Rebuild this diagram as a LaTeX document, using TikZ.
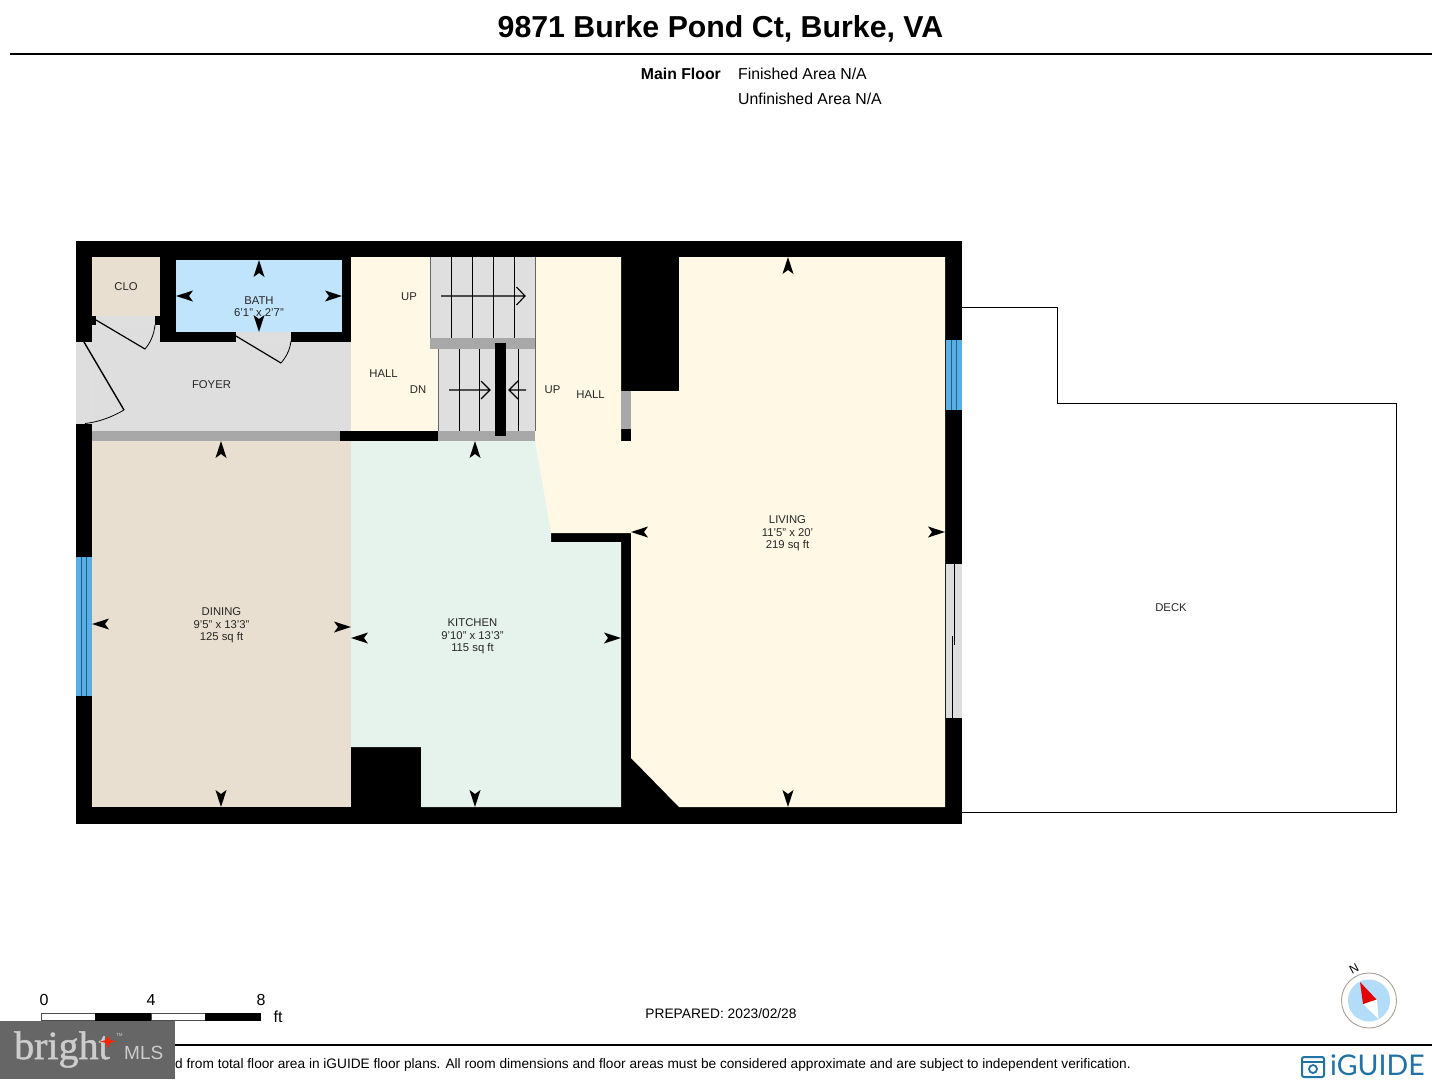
\documentclass[tikz,border=0pt]{standalone}
\usepackage{fontspec}
\setmainfont{Liberation Sans}
\newfontfamily\brightfont[BoldFont={Liberation Serif},BoldFeatures={FakeBold=1.3}]{Liberation Serif}
\newfontfamily\logofont{Lato}
\definecolor{cream}{HTML}{FFF8E5}
\definecolor{tan}{HTML}{E8DFD1}
\definecolor{mint}{HTML}{E5F3EC}
\definecolor{bathblue}{HTML}{BFE4FC}
\definecolor{compassblue}{HTML}{B2DCF7}
\definecolor{compassring}{HTML}{A89F9A}
\definecolor{floorgray}{HTML}{DEDEDE}
\definecolor{stairgray}{HTML}{DFDFE0}
\definecolor{thresh}{HTML}{A8A8A8}
\definecolor{winblue}{HTML}{5AAFE2}
\definecolor{winline}{HTML}{1F5F8F}
\definecolor{badge}{HTML}{666666}
\definecolor{logoblue}{HTML}{2272A8}
\newcommand\dimmark[3]{\fill[black,shift={(#1,#2)},rotate=#3] (0,0)--(-17,5.5)--(-13,0)--(-17,-5.5)--cycle;}
\newcommand\fsz[1]{\fontsize{#1}{#1}\selectfont}
\tikzset{
 roomlabel/.style={inner sep=0pt,align=center,text=black!85,font=\fontsize{11.3}{12.4}\selectfont},
 infolabel/.style={inner sep=0pt,font=\fsz{15.85}},
 doorline/.style={black,line width=1pt},
 treadline/.style={black,line width=1pt},
 stairarrow/.style={black,line width=1.1pt},
}
\begin{document}
\begin{tikzpicture}[x=1pt,y=-1pt]
\useasboundingbox (0,0) rectangle (1440,1079);
\fill[white] (0,0) rectangle (1440,1079);
% header
\node[inner sep=0pt,font=\bfseries\fsz{30.3}] (title) at (720.5,29) {9871 Burke Pond Ct, Burke, VA};
\coordinate (ruleA) at (10,54); \coordinate (ruleB) at (1432,54);
\draw[black,line width=2.6pt] (ruleA) -- (ruleB);
\node[infolabel,font=\bfseries\fsz{15.8},anchor=east] (mainfloor) at (721,74) {Main Floor};
\node[infolabel,anchor=west] (finished) at (738,74) {Finished Area N/A};
\node[infolabel,anchor=west] (unfinished) at (738,98.5) {Unfinished Area N/A};
% deck
\draw[black,line width=1pt] (962,307.5)--(1057.5,307.5)--(1057.5,403.5)--(1396.5,403.5)--(1396.5,812)--(962,812);
% building mass
\fill[black] (76,241) rectangle (962,824);
% rooms
\fill[cream] (351,257) rectangle (430,349);
\fill[cream] (351,349) rectangle (438,431);
\fill[cream] (535,257)--(621,257)--(621,441)--(631,441)--(631,391)--(679,391)--(679,257)--(945,257)--(945,807)--(679,807)--(631,758)--(631,533)--(545,533)--(530,445)--(535,441)--cycle;
\fill[tan] (92,441) rectangle (351,807);
\fill[mint] (351,441)--(535,441)--(551,533)--(551,542)--(621,542)--(621,807)--(421,807)--(421,747)--(351,747)--cycle;
\fill[tan] (92,257) rectangle (160,316);
\fill[bathblue] (176,260) rectangle (342,332);
% foyer
\fill[floorgray] (76,342) rectangle (92,424);
\fill[floorgray] (92,342) rectangle (351,431);
\fill[floorgray] (92,325) rectangle (160,342);
\fill[floorgray] (96,316) rectangle (155,325);
\fill[floorgray] (236,332) rectangle (291,342);
\draw[black!12,line width=.4pt] (92,342)--(92,424);
\draw[black!12,line width=.4pt] (96,325)--(155,325);
\draw[black!12,line width=.4pt] (236,341)--(291,341);
% foyer bottom strip
\fill[thresh] (92,431) rectangle (340,441);
% doors
\draw[doorline,line width=1.4pt] (84,342)--(124,410);
\draw[doorline,line width=.8pt] (124,410) .. controls (112,417) and (99,422) .. (85,423.5);
\draw[doorline,line width=1.2pt] (96,320)--(145,349);
\draw[doorline,line width=.8pt] (145,349) .. controls (151,342) and (154,334) .. (155,325);
\draw[doorline,line width=1.2pt] (236,336)--(281,363);
\draw[doorline,line width=.8pt] (281,363) .. controls (287,356) and (290,349) .. (291,341);
% stairs
\fill[stairgray] (430,257) rectangle (535,338);
\fill[stairgray] (438,349) rectangle (535,431);
\foreach \tx in {451.5,472.5,493.5,514.5} \draw[treadline] (\tx,257)--(\tx,338);
\foreach \tx in {459.5,479.5,518.5} \draw[treadline] (\tx,349)--(\tx,431);
\draw[black!60,line width=1pt] (430,257)--(430,338) (535,257)--(535,431) (438,349)--(438,431);
\fill[thresh] (430,338) rectangle (535,349);
\fill[thresh] (438,431) rectangle (535,441);
\fill[black] (495,343) rectangle (505.5,436);
\draw[stairarrow] (441,296)--(525,296) (516.5,287)--(525,296)--(516.5,305);
\draw[stairarrow] (449,390)--(490,390) (481,381)--(490,390)--(481,399);
\draw[stairarrow] (526,390)--(509,390) (518,381)--(509,390)--(518,399);
\fill[thresh] (621,391) rectangle (631,429);
% windows
\fill[winblue] (76,557) rectangle (92,696);
\draw[winline,line width=.8pt] (81,557)--(81,696) (86.5,557)--(86.5,696);
\fill[winblue] (946,340) rectangle (962,410);
\draw[winline,line width=.8pt] (951,340)--(951,410) (956.5,340)--(956.5,410);
% slider
\fill[floorgray] (945.5,564) rectangle (962,718);
\draw[black,line width=1.1pt] (954.5,564)--(954.5,645);
\draw[black,line width=1.1pt] (952.5,636)--(952.5,718);
% dimension marks
\dimmark{259}{260}{90}\dimmark{259}{332}{-90}\dimmark{176}{296}{180}\dimmark{342}{296}{0}
\dimmark{221}{441}{90}\dimmark{221}{807}{-90}\dimmark{92}{624}{180}\dimmark{351}{627}{0}
\dimmark{475}{441}{90}\dimmark{475}{807}{-90}\dimmark{351}{638}{180}\dimmark{621}{638}{0}
\dimmark{788}{257}{90}\dimmark{788}{807}{-90}\dimmark{631}{532}{180}\dimmark{945}{532}{0}
% labels
\node[roomlabel] (clo) at (126,286.5) {CLO};
\node[roomlabel] (bath) at (259,307) {BATH\\[-.5pt]6'1" x 2'7"};
\node[roomlabel] (foyer) at (211.5,385) {FOYER};
\node[roomlabel] (hallA) at (383.5,374) {HALL};
\node[roomlabel] (upA) at (409,296.5) {UP};
\node[roomlabel] (dn) at (418,390) {DN};
\node[roomlabel] (upB) at (552.5,390) {UP};
\node[roomlabel] (hallB) at (590.5,395) {HALL};
\node[roomlabel] (dining) at (221.5,625.5) {DINING\\9'5" x 13'3"\\125 sq ft};
\node[roomlabel] (kitchen) at (472.5,636.5) {KITCHEN\\9'10" x 13'3"\\115 sq ft};
\node[roomlabel] (living) at (787.5,533.5) {LIVING\\11'5" x 20'\\219 sq ft};
\node[roomlabel] (deck) at (1171,608) {DECK};
% scale
\draw[black!70,line width=.6pt,fill=white] (41,1013.5) rectangle (96,1020);
\draw[black!70,line width=.6pt,fill=white] (151,1013.5) rectangle (205,1020);
\fill[black] (95,1013) rectangle (151,1020.5);
\fill[black] (205,1013) rectangle (261,1020.5);
\node[inner sep=0pt,font=\fsz{16}] (s0) at (44,1000) {0};
\node[inner sep=0pt,font=\fsz{16}] (s4) at (151,1000) {4};
\node[inner sep=0pt,font=\fsz{16}] (s8) at (261,1000) {8};
\node[inner sep=0pt,font=\fsz{16}] (sft) at (278,1017) {ft};
\node[inner sep=0pt,font=\fsz{13.75}] (prep) at (721,1013.5) {PREPARED: 2023/02/28};
% footer
\coordinate (ruleC) at (170,1045); \coordinate (ruleD) at (1432,1045);
\draw[black,line width=2.4pt] (ruleC) -- (ruleD);
\node[inner sep=0pt,anchor=west,font=\fsz{13.68}] (foot) at (175,1065) {d from total floor area in iGUIDE floor plans. All room dimensions and floor areas must be considered approximate and are subject to independent verification.};
% badge
\fill[badge] (0,1021) rectangle (175,1079);
\node[inner sep=0pt,anchor=base west,text=black!20,font=\brightfont\bfseries\fsz{40}] (bright) at (14,1059) {bright};
\fill[red!70!orange] (108,1035.5)--(110,1040)--(116,1041.5)--(110,1043)--(108,1048)--(106,1043)--(100,1041.5)--(106,1040)--cycle;
\node[inner sep=0pt,anchor=base west,text=black!20,font=\fsz{4.5}] (tm) at (116,1036) {TM};
\node[inner sep=0pt,anchor=base west,text=black!20,font=\fsz{19}] (mls) at (124,1059) {MLS};
% compass
\fill[white] (1369,1000.5) circle (27.5);
\draw[compassring,line width=.9pt] (1369,1000.5) circle (27.5);
\fill[compassblue] (1369,1000.5) circle (21);
\fill[white] (1377,999) -- (1363,1004) -- (1378.5,1019) -- cycle;
\fill[red!90!black] (1360,982) -- (1376.5,999.5) -- (1363,1004) -- cycle;
\node[inner sep=0pt,rotate=28,font=\fsz{12}] (north) at (1354,969) {N};
% logo
\node[inner sep=0pt,anchor=base west,text=logoblue,font=\logofont\fsz{28.5}] (iguide) at (1330,1075.5) {iGUIDE};
\draw[logoblue,line width=2pt,rounded corners=2pt] (1302,1057) rectangle (1324,1077);
\draw[logoblue,line width=1.8pt] (1302,1062)--(1324,1062);
\draw[logoblue,line width=1.8pt] (1313,1069) circle (4);
\end{tikzpicture}
\end{document}
